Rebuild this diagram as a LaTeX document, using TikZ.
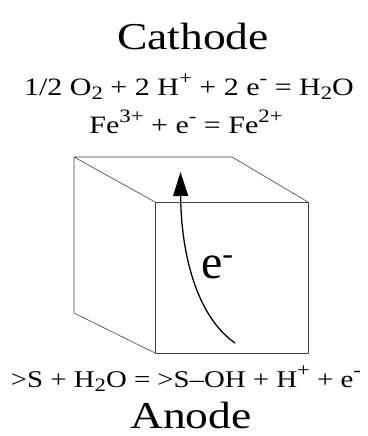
\documentclass[tikz,border=0pt]{standalone}
\usepackage{fontspec}
\setmainfont[FakeStretch=1.2]{Liberation Serif}
\newfontfamily\plainserif{Liberation Serif}
\usetikzlibrary{arrows.meta}
\newcommand\lo[1]{\raisebox{-0.42ex}{\fontsize{19}{19}\selectfont #1}}
\newcommand\hi[1]{\raisebox{0.95ex}{\fontsize{19}{19}\selectfont #1}}
\tikzset{
  title/.style={inner sep=0pt, anchor=base, font=\fontsize{38}{40}\selectfont},
  eqn/.style={inner sep=0pt, anchor=base, font=\fontsize{25}{27}\selectfont},
  edge/.style={line width=0.6pt, draw=black!75, line join=round},
  flow/.style={line width=1.3pt, -{Triangle[length=24pt,width=15pt]}}
}
\begin{document}
\begin{tikzpicture}[x=1pt,y=-1pt]
\useasboundingbox (0,0) rectangle (367,436);
\node[title] (cathode) at (193,50) {Cathode};
\node[eqn] (eqa) at (189,95) {1/2 O\lo{2} + 2 H\hi{+} + 2 e\hi{-} = H\lo{2}O};
\node[eqn] (eqb) at (186,133) {Fe\hi{3+} + e\hi{-} = Fe\hi{2+}};
\node[eqn, font=\fontsize{24}{26}\selectfont] (eqc) at (186,387) {>S + H\lo{2}O = >S–OH + H\hi{+} + e\hi{-}};
\node[title] (anode) at (191,428) {Anode};
% cube
\coordinate (btl) at (74,157);
\coordinate (btr) at (232,157);
\coordinate (ftl) at (155,202);
\coordinate (ftr) at (308,202);
\coordinate (fbl) at (155,353);
\coordinate (fbr) at (308,353);
\coordinate (bbl) at (74,313);
\draw[edge] (ftl) -- (ftr) -- (fbr) -- (fbl) -- cycle;
\draw[edge] (ftl) -- (btl) -- (btr) -- (ftr);
\draw[edge] (btl) -- (bbl) -- (fbl);
% electron path
\coordinate (start) at (235,343);
\coordinate (tip) at (180.5,172);
\draw[flow] (start) .. controls (195,315) and (181,250) .. (tip);
\node[inner sep=0pt, anchor=base, font=\plainserif\fontsize{48}{48}\selectfont] (elec) at (217,278) {e\raisebox{0.6ex}{\fontsize{32}{32}\selectfont -}};
\end{tikzpicture}
\end{document}
